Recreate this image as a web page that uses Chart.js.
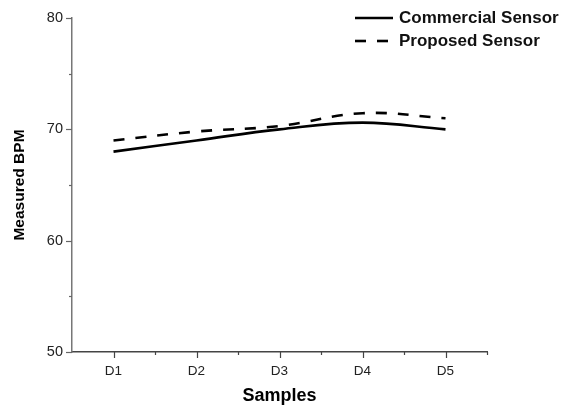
<!DOCTYPE html>
<html><head><meta charset="utf-8">
<script src="https://cdn.jsdelivr.net/npm/chart.js@4/dist/chart.umd.min.js"></script>
<style>html,body{margin:0;padding:0;background:#fff}#wrap{width:563px;height:407px}</style>
</head><body><div id="wrap"><canvas id="c" width="563" height="407"></canvas></div>
<script>
const categories = ['D1','D2','D3','D4','D5'];
const commercial = [68.0, 69.0, 70.0, 70.6, 70.0];
const proposed = [69.0, 69.8, 70.3, 71.45, 71.0];
const seriesNames = ['Commercial Sensor','Proposed Sensor'];
const yMajorTicks = [50, 60, 70, 80];
const yMinorTicks = [55, 65, 75];

const FONT = 'Arial, "Liberation Sans", sans-serif';

const axisTicks = {
  id: 'axisTicks',
  afterDraw(chart) {
    const ctx = chart.ctx, x = chart.scales.x, y = chart.scales.y;
    const ca = chart.chartArea;
    ctx.save();
    ctx.strokeStyle = '#666'; ctx.lineWidth = 1.2;
    yMajorTicks.forEach(v => { const p = Math.round(y.getPixelForValue(v)) + 0.5; ctx.beginPath(); ctx.moveTo(ca.left - 6, p); ctx.lineTo(ca.left, p); ctx.stroke(); });
    yMinorTicks.forEach(v => { const p = Math.round(y.getPixelForValue(v)) + 0.5; ctx.beginPath(); ctx.moveTo(ca.left - 3, p); ctx.lineTo(ca.left, p); ctx.stroke(); });
    ctx.strokeStyle = '#444';
    categories.forEach((c, i) => {
      const p = Math.round(x.getPixelForValue(i)) + 0.5;
      ctx.beginPath(); ctx.moveTo(p, ca.bottom); ctx.lineTo(p, ca.bottom + 6); ctx.stroke();
      const q = Math.round(x.getPixelForValue(i + 0.5)) + 0.5;
      ctx.beginPath(); ctx.moveTo(q, ca.bottom); ctx.lineTo(q, ca.bottom + 3); ctx.stroke();
    });
    const items = [{dash: [], y: 18}, {dash: [11, 11], y: 41}];
    items.forEach((it, i) => {
      ctx.setLineDash(it.dash);
      ctx.strokeStyle = '#000'; ctx.lineWidth = 2.6;
      ctx.beginPath(); ctx.moveTo(355, it.y); ctx.lineTo(393, it.y); ctx.stroke();
      ctx.setLineDash([]);
      ctx.fillStyle = '#111'; ctx.font = 'bold 17px ' + FONT; ctx.textBaseline = 'middle'; ctx.textAlign = 'left';
      ctx.fillText(seriesNames[i], 399, it.y);
    });
    ctx.restore();
  }
};

new Chart(document.getElementById('c'), {
  type: 'line',
  data: {
    labels: categories,
    datasets: [
      { label: seriesNames[0], data: commercial, borderColor: '#000', borderWidth: 2.6, pointRadius: 0, tension: 0.4, fill: false },
      { label: seriesNames[1], data: proposed, borderColor: '#000', borderWidth: 2.6, borderDash: [11, 11], pointRadius: 0, tension: 0.4, fill: false }
    ]
  },
  options: {
    responsive: false,
    animation: false,
    devicePixelRatio: 1,
    layout: { padding: { top: 18, right: 76, left: 0, bottom: 0 } },
    plugins: { legend: { display: false }, tooltip: { enabled: false } },
    scales: {
      x: {
        type: 'category', offset: true,
        grid: { display: true, drawOnChartArea: false, drawTicks: true, tickLength: 6, color: 'rgba(0,0,0,0)', offset: false },
        border: { display: true, color: '#444', width: 1.5 },
        ticks: { color: '#222', font: { family: FONT, size: 13.5 }, padding: 5, maxRotation: 0 },
        title: { display: true, text: 'Samples', color: '#000', font: { family: FONT, size: 18, weight: 'bold' }, padding: { top: 0, bottom: 0 } },
        afterFit(s) { s.height = 55; }
      },
      y: {
        min: 50, max: 80,
        grid: { display: true, drawOnChartArea: false, drawTicks: true, tickLength: 6, color: 'rgba(0,0,0,0)' },
        border: { display: true, color: '#777', width: 1.5 },
        ticks: { stepSize: 10, color: '#222', font: { family: FONT, size: 14.5 }, padding: 3 },
        title: { display: true, text: 'Measured BPM', color: '#000', font: { family: FONT, size: 15.5, weight: 'bold' }, padding: { top: 10, bottom: 0 } },
        afterFit(s) { s.width = 72; }
      }
    }
  },
  plugins: [axisTicks]
});
</script>
</body></html>
